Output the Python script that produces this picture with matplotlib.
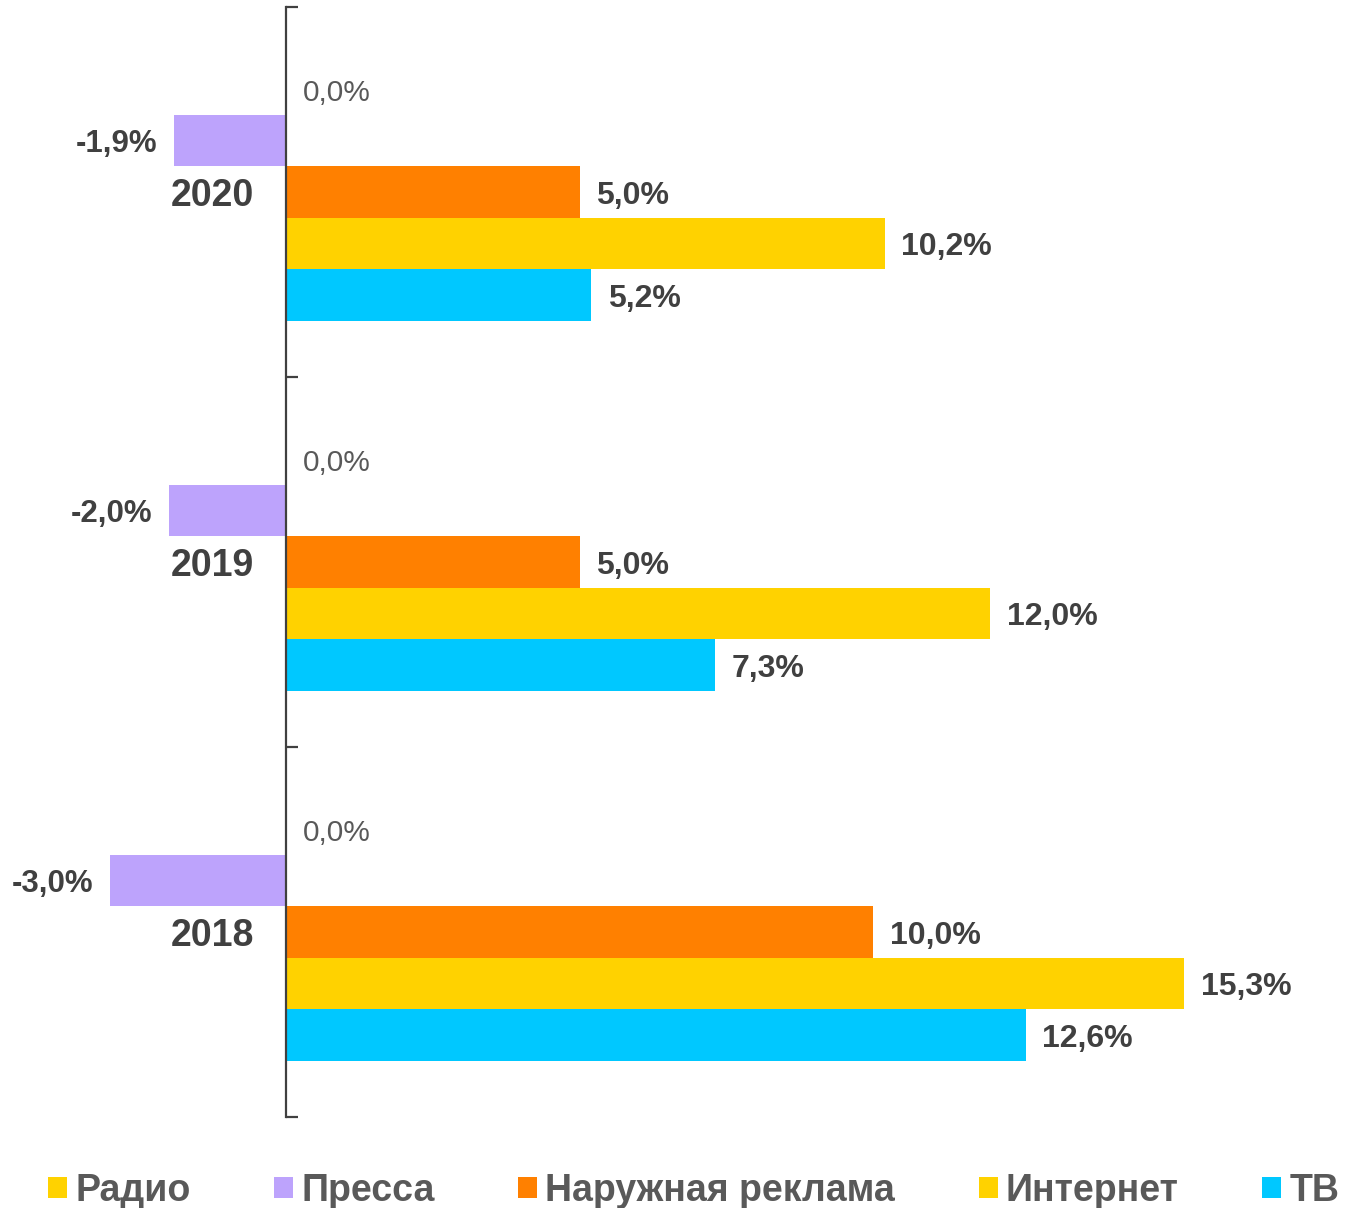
import matplotlib
matplotlib.use("Agg")
import matplotlib.pyplot as plt
from matplotlib.patches import Patch
import numpy as np

plt.rcParams['font.family'] = ['Liberation Sans', 'DejaVu Sans']

years = ["2018", "2019", "2020"]
series = ["Радио", "Пресса", "Наружная реклама", "Интернет", "ТВ"]
radio = [0.0, 0.0, 0.0]
pressa = [-3.0, -2.0, -1.9]
outdoor = [10.0, 5.0, 5.0]
internet = [15.3, 12.0, 10.2]
tv = [12.6, 7.3, 5.2]
values = [radio, pressa, outdoor, internet, tv]
colors = ["#FFD200", "#BDA3FC", "#FF8000", "#FFD200", "#00C8FF"]

fig = plt.figure(figsize=(13.66, 12.08), dpi=100)
ax = fig.add_axes([0.0, 91 / 1208, 1.0, 1110 / 1208])

scale = 58.7  # px per percent
ax.set_xlim(-286 / scale, (1366 - 286) / scale)
ax.set_ylim(-0.5, 2.5)

h = 0.1392
y = np.arange(len(years))
for i, (vals, col) in enumerate(zip(values, colors)):
    pos = y + (2 - i) * h
    ax.barh(pos, vals, height=h, color=col, edgecolor='none', zorder=2)
    for p, v in zip(pos, vals):
        txt = f"{v:.1f}%".replace(".", ",")
        if v == 0:
            ax.annotate(txt, (v, p), xytext=(12, -3), textcoords='offset points',
                        ha='left', va='center', fontsize=21.5, color='#595959')
        elif v > 0:
            ax.annotate(txt, (v, p), xytext=(12, -2.8), textcoords='offset points',
                        ha='left', va='center', fontsize=23, fontweight='bold',
                        color='#404040')
        else:
            ax.annotate(txt, (v, p), xytext=(-12, -2.8), textcoords='offset points',
                        ha='right', va='center', fontsize=22.5, fontweight='bold',
                        color='#404040')

for s in ['top', 'right', 'bottom']:
    ax.spines[s].set_visible(False)
ax.spines['left'].set_position(('data', 0))
ax.spines['left'].set_color('#404040')
ax.spines['left'].set_linewidth(1.6)
ax.set_xticks([])
ax.set_yticks([-0.5, 0.5, 1.5, 2.5])
ax.set_yticklabels([])
ax.tick_params(axis='y', which='major', direction='in', length=8.5, width=1.6,
               color='#404040')
ax.set_yticks(y, minor=True)
ax.set_yticklabels(years, minor=True)
ax.tick_params(axis='y', which='minor', length=0, pad=23, labelsize=27,
               labelcolor='#404040')
for lab in ax.get_yticklabels(minor=True):
    lab.set_fontweight('bold')
ax.patch.set_alpha(0)

handles = [Patch(facecolor=c, edgecolor='none', label=s) for s, c in zip(series, colors)]
leg = fig.legend(handles=handles, loc='center', bbox_to_anchor=(0.508, 17 / 1208),
                 ncol=5, frameon=False, handlelength=0.5, handleheight=0.5,
                 handletextpad=0.22, columnspacing=2.23,
                 prop={'size': 27, 'weight': 'bold'})
for t in leg.get_texts():
    t.set_color('#595959')

fig.savefig("out.png", dpi=100)
